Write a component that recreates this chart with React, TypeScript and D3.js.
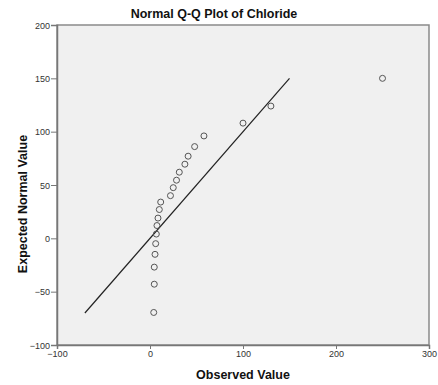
import { useEffect, useRef } from 'react';
import * as d3 from 'd3';

const observed = [4, 4.6, 4.6, 5.4, 6.1, 6.8, 7.5, 8.6, 10, 11.5, 22, 25, 28.5, 31.5, 37.5, 41, 48, 58, 100, 130, 250];
const expected = [-69.5, -43, -27, -15, -5, 4, 12, 19, 27, 34, 40, 47.5, 54.5, 62, 69.5, 77, 86, 96, 108, 124, 150];
const refLine = [-70, 150];
const xTicks = [-100, 0, 100, 200, 300];
const yTicks = [-100, -50, 0, 50, 100, 150, 200];

const width = 438;
const height = 385;
const margin = { top: 25, right: 9, bottom: 40, left: 57 };

function QQChart() {
  const ref = useRef<SVGSVGElement>(null);

  useEffect(() => {
    const svg = d3.select(ref.current);
    svg.selectAll('*').remove();

    const x = d3.scaleLinear().domain([-100, 300]).range([margin.left, width - margin.right]);
    const y = d3.scaleLinear().domain([-100, 200]).range([height - margin.bottom, margin.top]);

    // plot background
    svg.append('rect')
      .attr('x', x(-100))
      .attr('y', y(200))
      .attr('width', x(300) - x(-100))
      .attr('height', y(-100) - y(200))
      .attr('fill', '#f0f0f0')
      .attr('stroke', '#8a8a8a')
      .attr('stroke-width', 1.5);

    const xAxis = svg.append('g')
      .attr('transform', `translate(0,${y(-100)})`)
      .call(d3.axisBottom(x).tickValues(xTicks).tickSize(4).tickFormat(d3.format('d')));
    const yAxis = svg.append('g')
      .attr('transform', `translate(${x(-100)},0)`)
      .call(d3.axisLeft(y).tickValues(yTicks).tickSize(6).tickFormat(d3.format('d')));

    [xAxis, yAxis].forEach(a => {
      a.select('.domain').attr('stroke', '#777').attr('stroke-width', 1.5);
      a.selectAll('.tick line').attr('stroke', '#777');
      a.selectAll('.tick text')
        .attr('fill', '#333')
        .style('font', '9px Arial, "Liberation Sans", sans-serif');
    });
    xAxis.selectAll('.tick text').attr('dy', '0.6em');
    yAxis.selectAll('.tick text').attr('dy', '0.35em').attr('x', -7);

    // reference line
    svg.append('line')
      .attr('x1', x(refLine[0]))
      .attr('y1', y(refLine[0]))
      .attr('x2', x(refLine[1]))
      .attr('y2', y(refLine[1]))
      .attr('stroke', '#222')
      .attr('stroke-width', 1.2);

    svg.append('g')
      .selectAll('circle')
      .data(observed.map((v, i) => [v, expected[i]]))
      .join('circle')
        .attr('cx', d => x(d[0]))
        .attr('cy', d => y(d[1]))
        .attr('rx', 3)
        .attr('r', 3)
        .attr('fill', 'none')
        .attr('stroke', '#555')
        .attr('stroke-width', 1);

    const font = 'bold 12.5px Arial, "Liberation Sans", sans-serif';
    svg.append('text')
      .attr('x', 214)
      .attr('y', 18)
      .attr('text-anchor', 'middle')
      .style('font', font)
      .attr('fill', '#111')
      .text('Normal Q-Q Plot of Chloride');

    svg.append('text')
      .attr('x', 243)
      .attr('y', 379)
      .attr('text-anchor', 'middle')
      .style('font', font)
      .attr('fill', '#111')
      .text('Observed Value');

    svg.append('text')
      .attr('transform', `translate(27,204) rotate(-90)`)
      .attr('text-anchor', 'middle')
      .style('font', font)
      .attr('fill', '#111')
      .text('Expected Normal Value');
  }, []);

  return <svg ref={ref} width={width} height={height} style={{ position: 'absolute', left: 0, top: 0, background: '#fff' }} />;
}

export default function App() {
  return <QQChart />;
}
